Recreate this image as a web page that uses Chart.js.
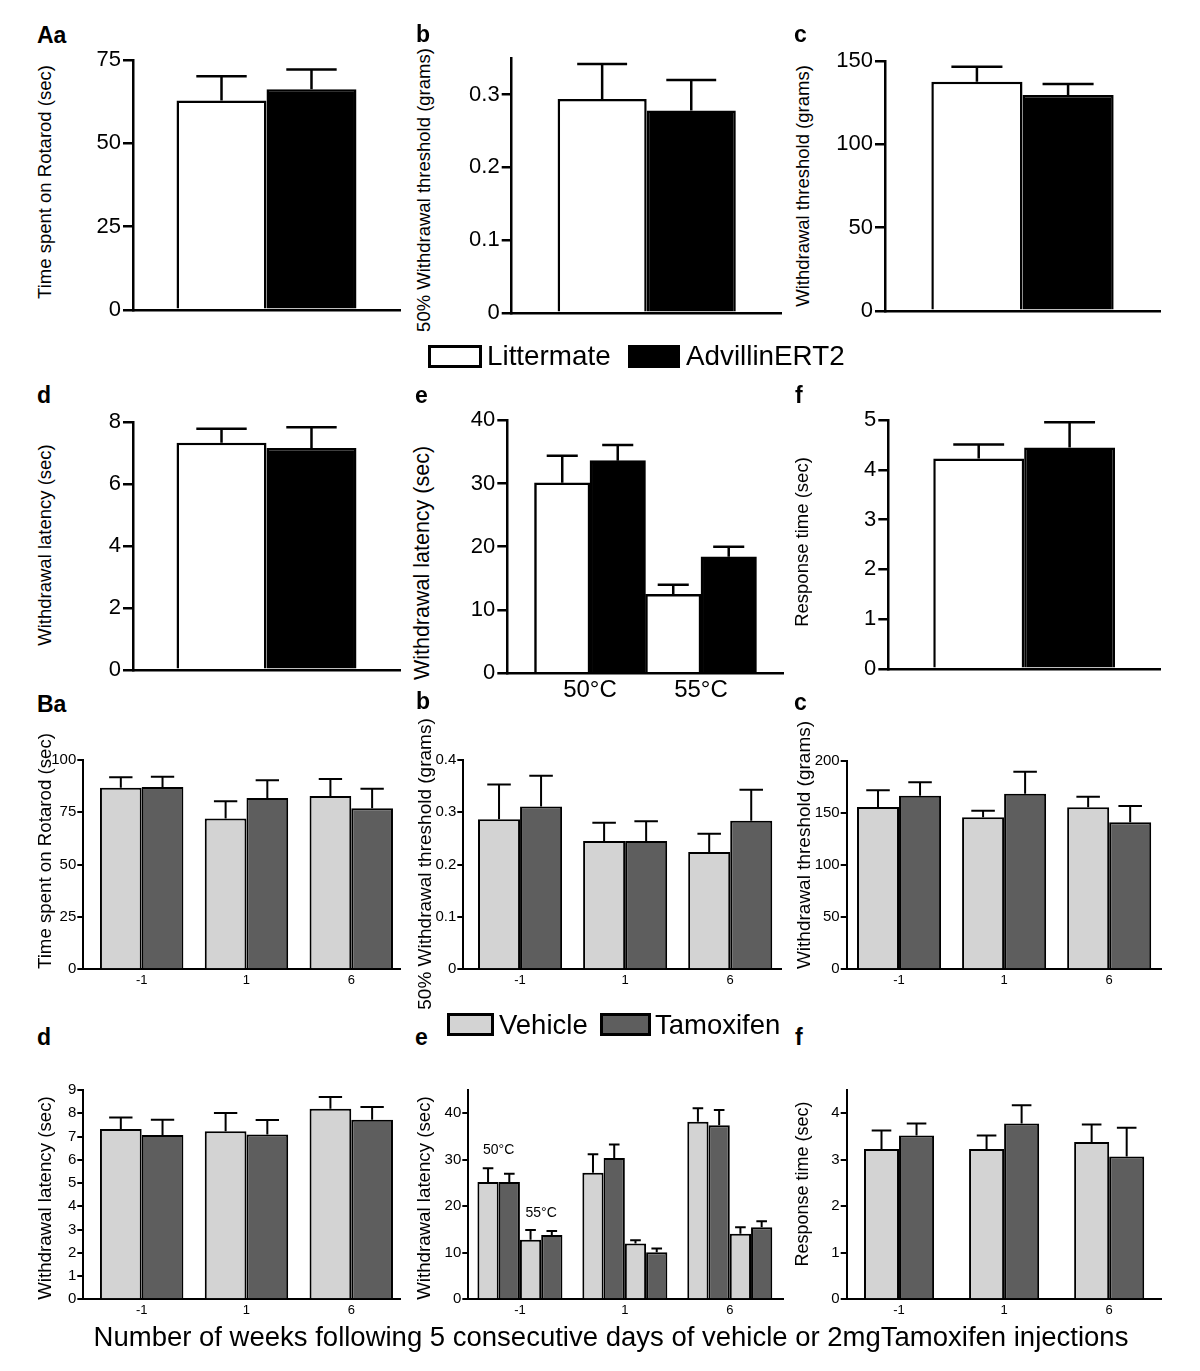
<!DOCTYPE html>
<html><head><meta charset="utf-8">
<script src="https://cdn.jsdelivr.net/npm/chart.js@4.4.1/dist/chart.umd.min.js"></script>
<style>
html,body{margin:0;padding:0;background:#fff;}
body{position:relative;width:1200px;height:1371px;overflow:hidden;font-family:"Liberation Sans",Arial,Helvetica,sans-serif;color:#000;}
canvas{position:absolute;}
.t{position:absolute;white-space:nowrap;line-height:1;}
.yt{position:absolute;white-space:nowrap;line-height:1;transform:translate(-50%,-50%) rotate(-90deg);}
.box{position:absolute;box-sizing:border-box;border:3px solid #000;}
</style></head><body>
<script>
// ---------------- DATA ----------------
const groupsA = ['Littermate', 'AdvillinERT2'];
const groupsB = ['Vehicle', 'Tamoxifen'];
const weeks = ['-1', '1', '6'];
const temps = ['50°C', '55°C'];

// Panel A (single comparison): means and SEM
const aaMean = [62.9, 66.3],  aaErr = [7.3, 5.9];
const abMean = [0.294, 0.278], abErr = [0.048, 0.042];
const acMean = [137.6, 129.7], acErr = [9.0, 6.6];
const adMean = [7.34, 7.17],  adErr = [0.45, 0.67];
const aeLitter = [30.1, 12.5], aeLitterErr = [4.3, 1.5];
const aeAdv = [33.6, 18.4],    aeAdvErr = [2.5, 1.6];
const afMean = [4.23, 4.45],  afErr = [0.28, 0.51];

// Panel B (weeks -1, 1, 6)
const baVeh = [86.8, 72.1, 82.8], baVehErr = [4.9, 8.2, 8.1];
const baTam = [87.1, 81.8, 76.9], baTamErr = [4.9, 8.5, 9.4];
const bbVeh = [0.287, 0.245, 0.224], bbVehErr = [0.066, 0.035, 0.035];
const bbTam = [0.311, 0.245, 0.284], bbTamErr = [0.059, 0.038, 0.059];
const bcVeh = [155.6, 145.7, 155.3], bcVehErr = [16.0, 6.4, 10.2];
const bcTam = [166.4, 168.3, 141.0], bcTamErr = [12.9, 21.2, 15.6];
const bdVeh = [7.32, 7.23, 8.19], bdVehErr = [0.50, 0.78, 0.51];
const bdTam = [7.06, 7.09, 7.72], bdTamErr = [0.66, 0.62, 0.55];
const beVeh50 = [25.2, 27.2, 38.2], beVeh50Err = [3.0, 4.0, 2.9];
const beTam50 = [25.2, 30.4, 37.4], beTam50Err = [1.8, 2.9, 3.3];
const beVeh55 = [12.8, 12.0, 14.1], beVeh55Err = [2.1, 0.7, 1.4];
const beTam55 = [13.8, 10.1, 15.5], beTam55Err = [0.9, 0.8, 1.3];
const bfVeh = [3.23, 3.23, 3.38], bfVehErr = [0.40, 0.29, 0.38];
const bfTam = [3.52, 3.78, 3.07], bfTamErr = [0.26, 0.39, 0.62];

// Tick labels
const aaTicks = [0, 25, 50, 75];
const abTicks = [0, 0.1, 0.2, 0.3];
const acTicks = [0, 50, 100, 150];
const adTicks = [0, 2, 4, 6, 8];
const aeTicks = [0, 10, 20, 30, 40];
const afTicks = [0, 1, 2, 3, 4, 5];
const baTicks = [0, 25, 50, 75, 100];
const bbTicks = [0, 0.1, 0.2, 0.3, 0.4];
const bcTicks = [0, 50, 100, 150, 200];
const bdTicks = [0, 1, 2, 3, 4, 5, 6, 7, 8, 9];
const beTicks = [0, 10, 20, 30, 40];
const bfTicks = [0, 1, 2, 3, 4];

// ---------------- STYLE ----------------
const FF = '"Liberation Sans", Arial, Helvetica, sans-serif';
const WHITE = '#ffffff', BLACK = '#000000', LIGHT = '#d3d3d3', DARK = '#5e5e5e';
Chart.defaults.font.family = FF;
Chart.defaults.color = '#000';

const errorBars = {
  id: 'errorBars',
  afterDatasetsDraw(chart) {
    const ctx = chart.ctx, ys = chart.scales.y;
    const o = chart.options.plugins.errorBars || {};
    chart.data.datasets.forEach((ds, i) => {
      if (!ds.errors) return;
      const meta = chart.getDatasetMeta(i);
      meta.data.forEach((bar, j) => {
        const v = meta.controller.getParsed(j).y;
        const topPx = ys.getPixelForValue(v + ds.errors[j]);
        const half = bar.width * (o.cap || 0.55) / 2;
        ctx.save();
        ctx.strokeStyle = '#000';
        ctx.lineWidth = o.lw || 2;
        ctx.beginPath();
        ctx.moveTo(bar.x, bar.y);
        ctx.lineTo(bar.x, topPx);
        ctx.moveTo(bar.x - half, topPx);
        ctx.lineTo(bar.x + half, topPx);
        ctx.stroke();
        ctx.restore();
      });
    });
    const notes = (chart.options.plugins.notes || {}).items || [];
    notes.forEach(n => {
      const m1 = chart.getDatasetMeta(n.ds[0]).data[n.idx];
      const m2 = chart.getDatasetMeta(n.ds[1]).data[n.idx];
      const x = (m1.x + m2.x) / 2;
      const y = ys.getPixelForValue(n.at);
      ctx.save();
      ctx.font = n.size + 'px ' + FF;
      ctx.fillStyle = '#000';
      ctx.textAlign = 'center';
      ctx.textBaseline = 'middle';
      ctx.fillText(n.text, x, y);
      ctx.restore();
    });
  }
};
Chart.register(errorBars);

function fmt(v) { return String(Math.round(v * 1000) / 1000); }

function panel(p) {
  const left = Math.round(p.axisX - 62);
  const yW = p.axisX - left;
  const top = Math.round(p.top - 12);
  const padTop = p.top - top;
  const w = Math.round(p.right - left + 8);
  const padRight = w - (p.right - left);
  const h = Math.round(p.bottom - top + p.xH);
  const xH = h - (p.bottom - top);
  const c = document.createElement('canvas');
  c.width = w; c.height = h;
  c.style.left = left + 'px'; c.style.top = top + 'px';
  c.style.width = w + 'px'; c.style.height = h + 'px';
  document.body.appendChild(c);

  let xScale;
  if (p.xLabels) {
    xScale = {
      type: 'linear', min: p.xMin, max: p.xMax, offset: false,
      afterBuildTicks: s => { s.ticks = p.xLabels.map((_, i) => ({ value: i })); },
      ticks: { callback: v => p.xLabels[v], font: { size: p.xFont }, color: '#000', padding: p.xPad, maxRotation: 0, autoSkip: false },
      grid: { display: false, drawTicks: false },
      border: { display: true, color: '#000', width: p.lw },
      afterFit: s => { s.height = xH; }
    };
  } else {
    xScale = {
      type: 'category', offset: true,
      ticks: { display: false },
      grid: { display: false, drawTicks: false },
      border: { display: true, color: '#000', width: p.lw },
      afterFit: s => { s.height = xH; }
    };
  }

  const datasets = p.series.map(s => ({
    label: s.label,
    data: p.xLabels ? s.values.map((v, i) => ({ x: i, y: v })) : s.values,
    errors: s.errors,
    backgroundColor: s.fill,
    borderColor: '#000',
    borderWidth: p.lw,
    categoryPercentage: p.catPct,
    barPercentage: 1
  }));

  new Chart(c, {
    type: 'bar',
    data: { labels: p.xLabels ? undefined : [''], datasets },
    options: {
      responsive: false, animation: false, devicePixelRatio: 1,
      layout: { padding: { top: padTop, right: padRight, left: 0, bottom: 0 } },
      plugins: {
        legend: { display: false }, tooltip: { enabled: false },
        errorBars: { lw: p.lw, cap: p.cap },
        notes: { items: p.notes || [] }
      },
      scales: {
        x: xScale,
        y: {
          min: 0, max: p.yMax,
          afterFit: s => { s.width = yW; },
          afterBuildTicks: s => { s.ticks = p.yTicks.map(v => ({ value: v })); },
          ticks: { font: { size: p.yFont }, color: '#000', padding: p.yPad, callback: v => fmt(v) },
          grid: { display: true, drawOnChartArea: false, drawTicks: true, tickLength: p.tickLen, tickWidth: p.lw, tickColor: '#000', color: '#000', lineWidth: p.lw },
          border: { display: true, color: '#000', width: p.lw }
        }
      }
    }
  });
}

// ---------------- PANELS ----------------
const topStyle = { lw: 2.5, tickLen: 10, yFont: 22, yPad: 2, xH: 12, cap: 0.56 };
const botStyle = { lw: 2, tickLen: 6, yFont: 15, yPad: 1, xH: 28, xFont: 13, xPad: 3, cap: 0.56 };

function seriesA(mean, err) {
  return [
    { label: groupsA[0], values: [mean[0]], errors: [err[0]], fill: WHITE },
    { label: groupsA[1], values: [mean[1]], errors: [err[1]], fill: BLACK }
  ];
}
function seriesB(veh, vehErr, tam, tamErr) {
  return [
    { label: groupsB[0], values: veh, errors: vehErr, fill: LIGHT },
    { label: groupsB[1], values: tam, errors: tamErr, fill: DARK }
  ];
}

panel(Object.assign({}, topStyle, { axisX: 133, top: 57, bottom: 313, right: 400, yMax: 75, yTicks: aaTicks, catPct: 0.674, series: seriesA(aaMean, aaErr) }));
panel(Object.assign({}, topStyle, { axisX: 511.7, top: 55, bottom: 316, right: 781.7, yMax: 0.35, yTicks: abTicks, catPct: 0.66, series: seriesA(abMean, abErr) }));
panel(Object.assign({}, topStyle, { axisX: 885, top: 57.7, bottom: 314.3, right: 1160, yMax: 150, yTicks: acTicks, catPct: 0.663, series: seriesA(acMean, acErr) }));
panel(Object.assign({}, topStyle, { axisX: 133, top: 419, bottom: 673.3, right: 400, yMax: 8, yTicks: adTicks, catPct: 0.674, series: seriesA(adMean, adErr) }));
panel(Object.assign({}, topStyle, { axisX: 507.3, top: 416.7, bottom: 673.3, right: 783, yMax: 40, yTicks: aeTicks, catPct: 1,
  xLabels: temps, xMin: -0.745, xMax: 1.739, xFont: 24, xPad: 3, xH: 36,
  series: [
    { label: groupsA[0], values: aeLitter, errors: aeLitterErr, fill: WHITE },
    { label: groupsA[1], values: aeAdv, errors: aeAdvErr, fill: BLACK }
  ] }));
panel(Object.assign({}, topStyle, { axisX: 888.3, top: 416.7, bottom: 672.3, right: 1160, yMax: 5, yTicks: afTicks, catPct: 0.669, series: seriesA(afMean, afErr) }));

panel(Object.assign({}, botStyle, { axisX: 83.3, top: 760, bottom: 969.3, right: 400, yMax: 100, yTicks: baTicks, catPct: 0.796,
  xLabels: weeks, xMin: -0.557, xMax: 2.465, series: seriesB(baVeh, baVehErr, baTam, baTamErr) }));
panel(Object.assign({}, botStyle, { axisX: 463.3, top: 760, bottom: 969.3, right: 781.7, yMax: 0.4, yTicks: bbTicks, catPct: 0.8,
  xLabels: weeks, xMin: -0.54, xMax: 2.49, series: seriesB(bbVeh, bbVehErr, bbTam, bbTamErr) }));
panel(Object.assign({}, botStyle, { axisX: 846.7, top: 760.7, bottom: 969.3, right: 1161.7, yMax: 200, yTicks: bcTicks, catPct: 0.8,
  xLabels: weeks, xMin: -0.498, xMax: 2.5, series: seriesB(bcVeh, bcVehErr, bcTam, bcTamErr) }));
panel(Object.assign({}, botStyle, { axisX: 83.3, top: 1090, bottom: 1299.3, right: 400, yMax: 9, yTicks: bdTicks, catPct: 0.796,
  xLabels: weeks, xMin: -0.557, xMax: 2.465, series: seriesB(bdVeh, bdVehErr, bdTam, bdTamErr) }));
panel(Object.assign({}, botStyle, { axisX: 468.3, top: 1090, bottom: 1299.3, right: 783.3, yMax: 45, yTicks: beTicks, catPct: 0.81,
  xLabels: weeks, xMin: -0.492, xMax: 2.51, cap: 0.5,
  notes: [ { text: temps[0], ds: [0, 1], idx: 0, at: 32.0, size: 14 }, { text: temps[1], ds: [2, 3], idx: 0, at: 18.6, size: 14 } ],
  series: [
    { label: groupsB[0] + ' ' + temps[0], values: beVeh50, errors: beVeh50Err, fill: LIGHT },
    { label: groupsB[1] + ' ' + temps[0], values: beTam50, errors: beTam50Err, fill: DARK },
    { label: groupsB[0] + ' ' + temps[1], values: beVeh55, errors: beVeh55Err, fill: LIGHT },
    { label: groupsB[1] + ' ' + temps[1], values: beTam55, errors: beTam55Err, fill: DARK }
  ] }));
panel(Object.assign({}, botStyle, { axisX: 846.7, top: 1090, bottom: 1299.3, right: 1161.7, yMax: 4.5, yTicks: bfTicks, catPct: 0.667,
  xLabels: weeks, xMin: -0.498, xMax: 2.5, series: seriesB(bfVeh, bfVehErr, bfTam, bfTamErr) }));

// ---------------- TEXT ----------------
function txt(str, x, baseline, size, bold, align) {
  const d = document.createElement('div');
  d.className = 't';
  d.textContent = str;
  d.style.fontSize = size + 'px';
  if (bold) d.style.fontWeight = 'bold';
  d.style.top = (baseline - 0.8465 * size) + 'px';
  if (align === 'center') { d.style.left = x + 'px'; d.style.transform = 'translateX(-50%)'; }
  else d.style.left = x + 'px';
  document.body.appendChild(d);
}
function ytitle(str, cx, cy, size) {
  const d = document.createElement('div');
  d.className = 'yt';
  d.textContent = str;
  d.style.fontSize = size + 'px';
  d.style.left = cx + 'px'; d.style.top = cy + 'px';
  document.body.appendChild(d);
}
function box(x, y, w, h, fill) {
  const d = document.createElement('div');
  d.className = 'box';
  d.style.left = x + 'px'; d.style.top = y + 'px';
  d.style.width = w + 'px'; d.style.height = h + 'px';
  d.style.background = fill;
  document.body.appendChild(d);
}

// panel letters
txt('Aa', 37, 43, 23, true); txt('b', 416, 42, 23, true); txt('c', 794, 42, 23, true);
txt('d', 37, 403, 23, true); txt('e', 415, 403, 23, true); txt('f', 795, 403, 23, true);
txt('Ba', 37, 712, 23, true); txt('b', 416, 709, 23, true); txt('c', 794, 710, 23, true);
txt('d', 37, 1045, 23, true); txt('e', 415, 1045, 23, true); txt('f', 795, 1045, 23, true);

// y-axis titles
ytitle('Time spent on Rotarod (sec)', 45, 182, 18.5);
ytitle('50% Withdrawal threshold (grams)', 424, 190, 18.5);
ytitle('Withdrawal threshold (grams)', 803, 186, 18.5);
ytitle('Withdrawal latency (sec)', 45, 545, 18.5);
ytitle('Withdrawal latency (sec)', 423, 563, 21.5);
ytitle('Response time (sec)', 802, 542, 18.5);
ytitle('Time spent on Rotarod (sec)', 45, 851, 18.7);
ytitle('50% Withdrawal threshold (grams)', 424, 864, 19);
ytitle('Withdrawal threshold (grams)', 803, 845, 19);
ytitle('Withdrawal latency (sec)', 45, 1198, 18.7);
ytitle('Withdrawal latency (sec)', 424, 1198, 18.7);
ytitle('Response time (sec)', 802, 1184, 18);

// legends
box(428, 345, 54, 23, WHITE); txt(groupsA[0], 487, 366, 27.8);
box(628, 345, 52, 23, BLACK); txt(groupsA[1], 686, 366, 27.8);
box(447, 1013, 47, 23, LIGHT); txt(groupsB[0], 499, 1034, 27.5);
box(600, 1013, 51, 23, DARK); txt(groupsB[1], 655, 1034, 27.5);

// bottom caption
txt('Number of weeks following 5 consecutive days of vehicle or 2mgTamoxifen injections', 611, 1346, 27.5, false, 'center');
</script>
</body></html>
